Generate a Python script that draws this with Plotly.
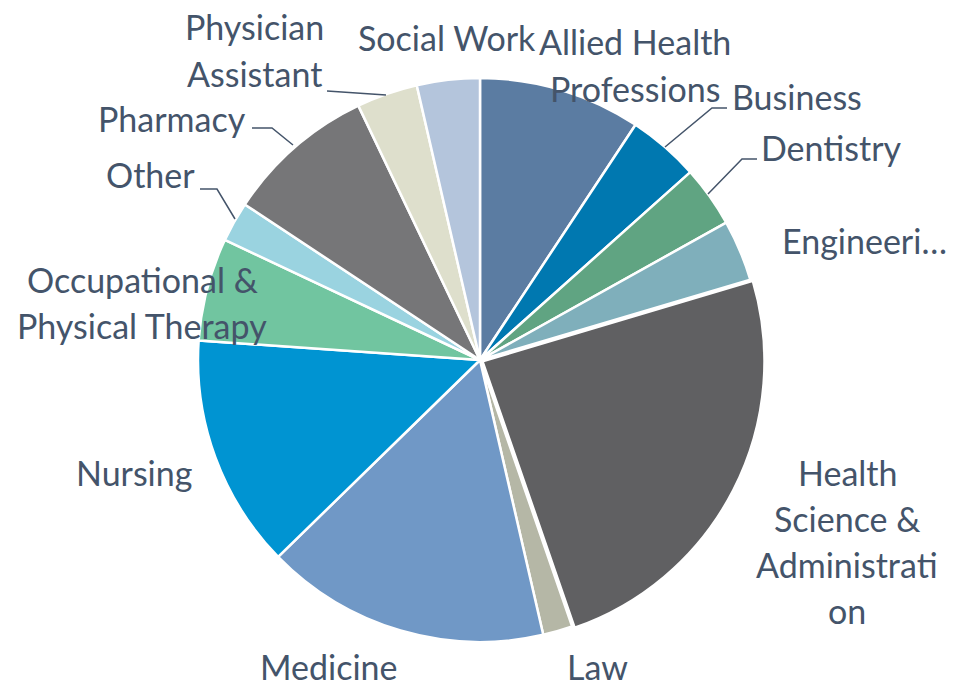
import plotly.graph_objects as go

W, H = 961, 686

categories = ["Allied Health Professions", "Business", "Dentistry", "Engineering",
              "Health Science & Administration", "Law", "Medicine", "Nursing",
              "Occupational & Physical Therapy", "Other", "Pharmacy",
              "Physician Assistant", "Social Work"]
values = [9.3, 4.1, 3.5, 3.5, 24.3, 1.7, 16.3, 13.4, 5.9, 2.3, 8.6, 3.5, 3.6]
colors = ["#5B7CA2", "#0078B0", "#60A482", "#7FAFBB", "#606062", "#B5B7A6",
          "#7098C6", "#0094D2", "#71C5A0", "#9AD3E0", "#767678", "#DEDFCC", "#B4C5DC"]

# label text lines as displayed, and label anchor (pixel) positions
label_lines = [["Allied Health", "Professions"], ["Business"], ["Dentistry"], ["Engineeri…"],
               ["Health", "Science &", "Administrati", "on"], ["Law"], ["Medicine"], ["Nursing"],
               ["Occupational &", "Physical Therapy"], ["Other"], ["Pharmacy"],
               ["Physician", "Assistant"], ["Social Work"]]
label_pos = [(635, 65), (797, 96), (831, 148), (864, 240), (847, 541), (597, 666),
             (329, 666), (134, 472), (142, 302), (150, 175), (172, 119), (254, 50), (447, 37)]
leaders = [
    [(727, 108), (712, 108), (665, 147)],   # Business
    [(757, 159), (742, 159), (708, 194)],   # Dentistry
    [(200, 189), (217, 189), (235, 219)],   # Other
    [(252, 128), (272, 128), (293, 145)],   # Pharmacy
    [(327, 91), (386, 95)],                 # Physician Assistant
]

pulls = [0, 0, 0, 0, 0.01, 0, 0, 0, 0, 0, 0, 0, 0]
cx, cy, r = 480, 360, 282
R = r * (1 + max(pulls))
fig = go.Figure(go.Pie(
    labels=categories, values=values, sort=False, direction="clockwise", rotation=0,
    marker=dict(colors=colors, line=dict(color="white", width=2.5)),
    textinfo="none", hoverinfo="label+value", showlegend=False,
    pull=pulls,
    domain=dict(x=[(cx - R) / W, (cx + R) / W], y=[(H - cy - R) / H, (H - cy + R) / H]),
))

FONT = dict(family="Lato, Carlito, Calibri, sans-serif", size=34, color="#44546A")
LS = 46
annotations = []
for lines, (px, py) in zip(label_lines, label_pos):
    n = len(lines)
    for i, t in enumerate(lines):
        yy = py + (i - (n - 1) / 2) * LS
        annotations.append(dict(x=px / W, y=1 - yy / H, xref="paper", yref="paper",
                                text=t, showarrow=False, font=FONT,
                                xanchor="center", yanchor="middle"))

shapes = []
for pts in leaders:
    path = "M " + " L ".join(f"{x / W},{1 - y / H}" for x, y in pts)
    shapes.append(dict(type="path", xref="paper", yref="paper", path=path,
                       line=dict(color="#44546A", width=1.5)))

fig.update_layout(width=W, height=H, margin=dict(l=0, r=0, t=0, b=0),
                  paper_bgcolor="white", plot_bgcolor="white",
                  annotations=annotations, shapes=shapes)
fig.write_html("out.html", config={"displayModeBar": False},
               post_script="document.body.style.margin='0';document.body.style.overflow='hidden';")
